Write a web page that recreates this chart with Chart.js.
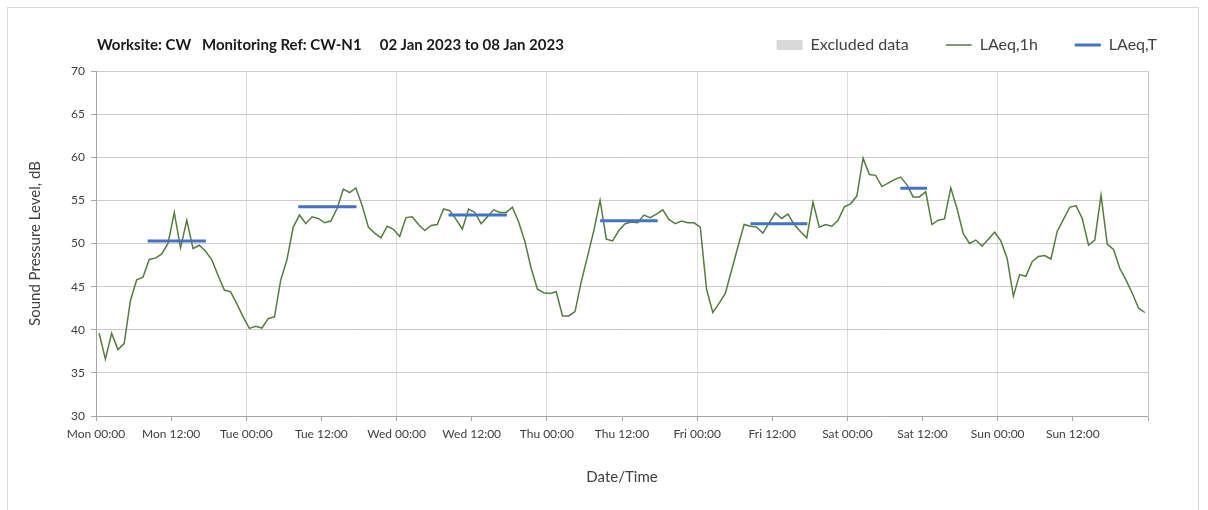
<!DOCTYPE html>
<html>
<head>
<meta charset="utf-8">
<script src="https://cdn.jsdelivr.net/npm/chart.js@4.4.1/dist/chart.umd.min.js"></script>
<style>
  html, body { margin: 0; padding: 0; background: #fff; overflow: hidden; }
  #wrap { position: relative; width: 1208px; height: 510px; }
  #marco { position: absolute; left: 7px; top: 7px; width: 1192px; height: 530px; border: 1px solid #d9d9d9; box-sizing: border-box; }
  #titulo { position: absolute; left: 97px; top: 35px; font: bold 15px Lato, sans-serif; color: #1a1a1a; white-space: pre; line-height: 18px; }
  #graficoRuido { position: absolute; left: 0; top: 0; }
</style>
</head>
<body>
<div id="wrap">
  <div id="marco"></div>
  <canvas id="graficoRuido" width="1208" height="510"></canvas>
  <div id="titulo">Worksite: CW   Monitoring Ref: CW-N1     02 Jan 2023 to 08 Jan 2023</div>
</div>
<script>
// Etiquetas del eje X (cada 12 horas)
const etiquetasX = ['Mon 00:00', 'Mon 12:00', 'Tue 00:00', 'Tue 12:00', 'Wed 00:00', 'Wed 12:00',
    'Thu 00:00', 'Thu 12:00', 'Fri 00:00', 'Fri 12:00', 'Sat 00:00', 'Sat 12:00', 'Sun 00:00', 'Sun 12:00'];

// LAeq,1h - un valor por hora, desde Mon 00:00
const laeq1h = [
    39.6, 36.6, 39.6, 37.7, 38.4, 43.4, 45.8, 46.1, 48.15, 48.3, 48.8, 50.0, 53.6, 49.5, 52.7, 49.4,
    49.8, 49.1, 48.1, 46.3, 44.6, 44.4, 43.0, 41.5, 40.15, 40.4, 40.2, 41.3, 41.5,
    45.75, 48.15, 51.9, 53.3, 52.3, 53.1, 52.9, 52.4, 52.6, 54.05, 56.3, 55.9, 56.45, 54.4,
    51.9, 51.2, 50.65, 52.0, 51.65, 50.8, 53.0, 53.1, 52.2, 51.5, 52.1, 52.2, 54.0, 53.8,
    52.8, 51.65, 54.0, 53.6, 52.3, 53.1, 53.9, 53.6, 53.6, 54.2, 52.5, 50.2, 47.1, 44.7,
    44.3, 44.2, 44.4, 41.6, 41.6, 42.1, 45.6, 48.5, 51.5, 55.0, 50.5, 50.3, 51.5,
    52.3, 52.5, 52.4, 53.3, 53.0, 53.4, 53.9, 52.8, 52.3, 52.6, 52.4, 52.4, 51.9, 44.7,
    42.0, 43.05, 44.2, 46.9, 49.6, 52.2, 52.0, 51.9, 51.2, 52.4, 53.55, 52.9, 53.4, 52.2,
    51.4, 50.65, 54.8, 51.9, 52.2, 52.0, 52.7, 54.25, 54.6, 55.5, 59.9, 58.0, 57.9, 56.6,
    57.0, 57.4, 57.7, 56.8, 55.4, 55.4, 56.0, 52.2, 52.7, 52.85, 56.45, 54.05, 51.15, 50.0,
    50.4, 49.7, 50.5, 51.3, 50.3, 48.3, 43.9, 46.4, 46.2, 47.9, 48.5, 48.6, 48.2, 51.4,
    52.8, 54.2, 54.4, 52.9, 49.8, 50.4, 55.6, 49.9, 49.3, 47.1, 45.75, 44.2, 42.5, 42.0
];

// LAeq,T - periodos diurnos (horas desde Mon 00:00)
const periodoInicio = [8.25, 32.3, 56.3, 80.5, 104.5, 128.45];
const periodoFin = [17.55, 41.6, 65.6, 89.7, 113.6, 132.7];
const laeqT = [50.3, 54.25, 53.3, 52.65, 52.3, 56.4];

// Puntos al centro de cada hora
const puntos1h = laeq1h.map((v, i) => ({ x: i + 0.5, y: v }));

// Segmentos horizontales separados por un hueco
const puntosT = [];
periodoInicio.forEach((ini, k) => {
    puntosT.push({ x: ini, y: laeqT[k] }, { x: periodoFin[k], y: laeqT[k] });
    if (k < periodoInicio.length - 1) {
        puntosT.push({ x: (periodoFin[k] + periodoInicio[k + 1]) / 2, y: null });
    }
});

Chart.defaults.font.family = 'Lato, sans-serif';
Chart.defaults.color = '#404040';

// Deja mas espacio bajo la leyenda
const espacioLeyenda = {
    id: 'espacioLeyenda',
    beforeInit(chart) {
        const fitOriginal = chart.legend.fit;
        chart.legend.fit = function () {
            fitOriginal.bind(chart.legend)();
            this.height += 8;
        };
    }
};

const ctxRuido = document.getElementById('graficoRuido').getContext('2d');

const chartRuido = new Chart(ctxRuido, {
    type: 'line',
    data: {
        datasets: [{
            label: 'Excluded data',
            data: [],
            backgroundColor: '#d9d9d9',
            borderColor: '#d9d9d9',
            borderWidth: 0,
            pointStyle: 'rect',
            order: 2
        }, {
            label: 'LAeq,1h',
            data: puntos1h,
            borderColor: '#567b41',
            backgroundColor: '#567b41',
            borderWidth: 1.5,
            pointRadius: 0,
            pointStyle: 'line',
            tension: 0,
            order: 1
        }, {
            label: 'LAeq,T',
            data: puntosT,
            borderColor: '#4472c4',
            backgroundColor: '#4472c4',
            borderWidth: 3,
            pointRadius: 0,
            pointStyle: 'line',
            spanGaps: false,
            order: 0
        }]
    },
    options: {
        responsive: false,
        animation: false,
        layout: {
            padding: { top: 0, left: 22, right: 14, bottom: 20 }
        },
        plugins: {
            legend: {
                position: 'top',
                align: 'end',
                labels: {
                    usePointStyle: true,
                    pointStyleWidth: 26,
                    boxHeight: 10,
                    padding: 37,
                    font: { size: 16 },
                    sort: (a, b) => a.datasetIndex - b.datasetIndex
                }
            },
            tooltip: { enabled: false }
        },
        scales: {
            x: {
                type: 'linear',
                min: 0,
                max: 168,
                afterFit: s => { s.height = 74; },
                ticks: {
                    stepSize: 12,
                    autoSkip: false,
                    maxRotation: 0,
                    padding: 6,
                    font: { size: 12 },
                    callback: v => etiquetasX[v / 12] ?? ''
                },
                grid: {
                    color: c => (c.tick && c.tick.value % 24 === 0) ? '#dcdcdc' : 'rgba(0,0,0,0)',
                    tickColor: '#a6a6a6',
                    tickLength: 5
                },
                border: { color: '#a6a6a6' },
                title: {
                    display: true,
                    text: 'Date/Time',
                    font: { size: 15 },
                    padding: { top: 4, bottom: 4 }
                }
            },
            y: {
                min: 30,
                max: 70,
                afterFit: s => { s.width = 74; },
                ticks: {
                    stepSize: 5,
                    padding: 6,
                    font: { size: 12 }
                },
                grid: {
                    color: '#cccccc',
                    tickColor: '#a6a6a6',
                    tickLength: 5
                },
                border: { color: '#a6a6a6' },
                title: {
                    display: true,
                    text: 'Sound Pressure Level, dB',
                    font: { size: 15 },
                    padding: { top: 4, bottom: 4 }
                }
            },
            derecha: {
                position: 'right',
                afterFit: s => { s.width = 46; },
                ticks: { display: false },
                grid: { display: false },
                border: { color: '#c8c8c8' }
            }
        }
    },
    plugins: [espacioLeyenda]
});
</script>
</body>
</html>
